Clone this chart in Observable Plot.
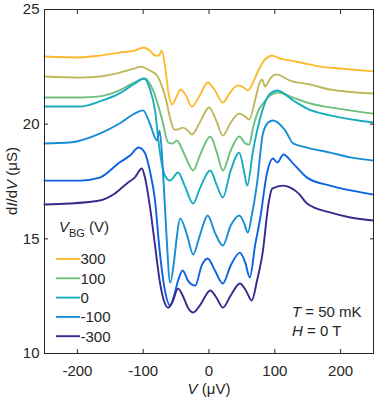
<!DOCTYPE html>
<html><head><meta charset="utf-8">
<script src="https://cdn.jsdelivr.net/npm/d3@7"></script>
<script src="https://cdn.jsdelivr.net/npm/@observablehq/plot@0.6"></script>
<style>body{margin:0;background:#fff}#chart{width:374px;height:399px}</style>
</head><body><div id="chart"></div>
<script>
// Back-gate voltages of the seven traces (V)
const gateVoltages = [300, 200, 100, 0, -100, -200, -300];
const traceColors = ["#fcbb2e", "#bfb85c", "#6ebf7e", "#18acbf", "#168dd6", "#0c62e0", "#372a8c"];

// Bias voltage V (µV) and differential conductance dI/dV (µS), per trace
const V_p300 = [-250,-196,-166,-136,-113,-99,-90,-82,-76,-72,-67,-61,-56,-50,-43,-35,-26,-14,-2,9,21,32,44,53,59,67,75,85,96,108,123,139,169,199,250];
const G_p300 = [22.95,22.91,22.99,23.12,23.21,23.34,23.21,22.99,22.99,23.21,22.56,21.25,20.86,21.16,21.51,21.25,20.77,21.25,21.82,21.47,20.94,21.38,21.69,21.60,21.47,21.82,22.34,22.82,22.99,22.86,22.78,22.69,22.51,22.43,22.30];

const V_p200 = [-250,-196,-166,-136,-113,-104,-90,-79,-72,-65,-59,-53,-47,-40,-32,-26,-14,0,11,21,33,46,55,61,70,76,81,85,93,102,123,154,184,250];
const G_p200 = [22.08,22.03,22.08,22.25,22.43,22.51,22.34,22.12,21.69,21.03,20.25,19.77,19.77,19.85,19.72,19.55,20.07,20.73,20.16,19.50,20.07,20.46,20.33,20.20,21.03,21.73,21.95,21.64,21.99,22.17,21.90,21.73,21.51,21.34];

const V_p100 = [-250,-196,-166,-136,-113,-97,-85,-72,-62,-55,-49,-40,-32,-24,-14,2,12,21,33,46,55,61,67,75,82,93,105,128,154,184,250];
const G_p100 = [21.16,21.16,21.21,21.47,21.82,21.99,21.47,20.29,19.20,19.16,19.29,18.85,18.33,17.98,18.63,19.46,18.76,17.98,18.85,19.46,19.16,19.11,19.85,20.60,20.90,21.25,21.38,21.16,20.90,20.73,20.46];

const V_0 = [-250,-196,-166,-136,-113,-99,-90,-82,-75,-67,-59,-47,-37,-24,-14,2,12,21,33,46,53,58,67,78,93,104,128,149,184,250];
const G_0 = [20.77,20.77,20.99,21.34,21.77,21.99,21.55,20.60,18.85,17.76,17.54,17.89,17.32,16.54,17.19,17.98,17.32,16.80,17.98,18.76,17.98,17.32,18.85,20.29,21.34,21.47,21.03,20.68,20.38,20.07];

const V_m100 = [-250,-212,-166,-136,-113,-100,-90,-79,-75,-70,-65,-59,-53,-49,-44,-34,-24,-14,-2,9,21,33,46,53,59,65,73,82,90,97,116,128,149,184,215,250];
const G_m100 = [19.16,19.20,19.59,20.03,20.46,20.60,20.03,19.29,19.72,17.98,15.36,13.09,14.05,15.06,15.89,15.23,14.32,15.14,16.02,15.27,14.71,15.58,16.02,15.71,15.27,16.02,17.41,19.59,20.07,20.16,19.72,19.16,18.98,18.76,18.55,18.41];

const V_m200 = [-250,-196,-166,-136,-120,-107,-97,-90,-82,-75,-67,-59,-53,-47,-40,-32,-21,-11,-2,9,21,33,47,55,62,70,78,88,97,104,113,128,149,184,215,250];
const G_m200 = [17.54,17.54,17.67,18.33,18.63,18.98,18.72,17.98,16.67,14.49,12.75,12.09,12.53,13.18,13.62,13.18,12.96,13.84,14.14,13.62,13.05,13.84,14.40,13.97,13.31,14.71,15.93,17.85,18.50,18.33,18.68,18.28,17.67,17.32,17.11,16.93];

const V_m300 = [-250,-212,-166,-143,-123,-113,-102,-97,-90,-82,-75,-67,-62,-56,-47,-40,-32,-24,-14,2,12,21,33,47,56,65,73,82,90,96,113,123,136,149,184,215,250];
const G_m300 = [16.50,16.54,16.67,16.98,17.46,17.67,18.07,17.63,16.45,14.71,13.18,12.18,12.00,12.22,12.83,12.53,12.00,11.79,12.09,12.75,12.40,12.00,12.53,13.05,12.75,12.31,13.18,14.49,16.45,17.19,17.32,17.24,16.98,16.54,16.15,15.93,15.80];

const xTicks = [-200, -100, 0, 100, 200];
const yTicks = [10, 15, 20, 25];
const legendLabels = ["300", "100", "0", "-100", "-300"];
const legendGates = [300, 100, 0, -100, -300];
const noteLines = [["T", " = 50 mK"], ["H", " = 0 T"]];

const traces = [[300, V_p300, G_p300], [200, V_p200, G_p200], [100, V_p100, G_p100], [0, V_0, G_0],
                [-100, V_m100, G_m100], [-200, V_m200, G_m200], [-300, V_m300, G_m300]];
const rows = traces.flatMap(([bg, vs, gs]) => vs.map((v, i) => ({bg, V: v, G: gs[i]})));

const FONT = "'Liberation Sans', Arial, Helvetica, sans-serif";
const INK = "#262626";
const FS = 15;

const chart = Plot.plot({
  width: 374, height: 399,
  marginLeft: 44, marginRight: 1, marginTop: 9, marginBottom: 46,
  style: {fontFamily: FONT, fontSize: FS + "px", color: INK, background: "#fff"},
  x: {domain: [-250, 250]},
  y: {domain: [10, 25]},
  color: {type: "ordinal", domain: gateVoltages, range: traceColors},
  marks: [
    Plot.line(rows, {x: "V", y: "G", z: "bg", stroke: "bg", strokeWidth: 1.9, curve: "monotone-x"}),
    Plot.frame({stroke: INK, strokeWidth: 1}),
    Plot.axisX({anchor: "bottom", ticks: xTicks, tickSize: -4, tickPadding: 16, tickFormat: d => String(d), label: null, fontSize: FS}),
    Plot.axisX({anchor: "top", ticks: xTicks, tickSize: -4, tickFormat: () => "", label: null}),
    Plot.axisY({anchor: "left", ticks: yTicks, tickSize: -4, tickPadding: 9, tickFormat: d => String(d), label: null, fontSize: FS}),
    Plot.axisY({anchor: "right", ticks: yTicks, tickSize: -4, tickFormat: () => "", label: null})
  ]
});
document.getElementById("chart").appendChild(chart);

const svg = d3.select(chart);
const color = chart.scale("color");

// y-axis title
const yl = svg.append("text").attr("transform", "translate(16.5,181) rotate(-90)")
  .attr("text-anchor", "middle").attr("fill", INK).style("font", `${FS}px ${FONT}`);
yl.append("tspan").text("d");
yl.append("tspan").attr("font-style", "italic").text("I");
yl.append("tspan").text("/d");
yl.append("tspan").attr("font-style", "italic").text("V");
yl.append("tspan").text(" (\u03bcS)");

// x-axis title
const xl = svg.append("text").attr("x", 209).attr("y", 394)
  .attr("text-anchor", "middle").attr("fill", INK).style("font", `${FS}px ${FONT}`);
xl.append("tspan").attr("font-style", "italic").text("V");
xl.append("tspan").text(" (\u03bcV)");

// legend
const lg = svg.append("g").style("font", `${FS}px ${FONT}`).attr("fill", INK).attr("text-anchor", "start");
const lt = lg.append("text").attr("x", 59).attr("y", 232);
lt.append("tspan").attr("font-style", "italic").text("V");
lt.append("tspan").attr("font-size", "11px").attr("dy", 5).text("BG");
lt.append("tspan").attr("dy", -5).text(" (V)");
legendLabels.forEach((lab, i) => {
  const y = 259 + i * 19.3;
  lg.append("line").attr("x1", 56).attr("x2", 80).attr("y1", y).attr("y2", y)
    .attr("stroke", color.apply(legendGates[i])).attr("stroke-width", 1.9);
  lg.append("text").attr("x", 80.5).attr("y", y + 5.3).text(lab);
});

// annotation
noteLines.forEach(([sym, rest], i) => {
  const t = svg.append("text").attr("x", 292).attr("y", 317 + i * 18.5).attr("fill", INK)
    .attr("text-anchor", "start").style("font", `${FS}px ${FONT}`);
  t.append("tspan").attr("font-style", "italic").text(sym);
  t.append("tspan").text(rest);
});
</script>
</body></html>
